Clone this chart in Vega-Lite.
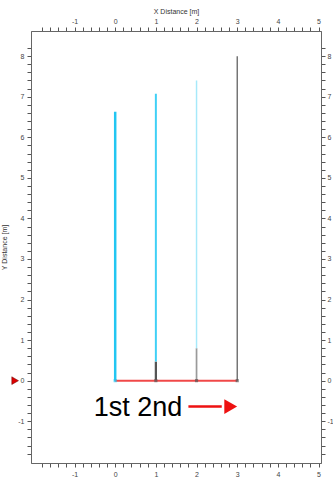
{
  "$schema": "https://vega.github.io/schema/vega-lite/v6.json",
  "width": 290,
  "height": 432,
  "autosize": "none",
  "padding": {"left": 31, "top": 31, "right": 12, "bottom": 17},
  "background": "white",
  "config": {
    "view": {"stroke": "#999", "strokeWidth": 1},
    "font": "Liberation Sans",
    "axis": {
      "grid": false,
      "domainColor": "#666",
      "tickColor": "#555",
      "tickSize": 4,
      "labelFontSize": 7,
      "labelColor": "#444",
      "labelFont": "Liberation Sans",
      "titleFont": "Liberation Sans",
      "titleFontSize": 7,
      "titleFontWeight": "normal",
      "titleColor": "#333",
      "labelOverlap": false,
      "labelBound": false,
      "labelFlush": false
    }
  },
  "datasets": {
    "segments": [
      {"x": 0, "y0": 0, "y1": 6.63, "part": "string 1"},
      {"x": 1, "y0": 0, "y1": 0.47, "part": "slack"},
      {"x": 1, "y0": 0.47, "y1": 7.07, "part": "string 2"},
      {"x": 2, "y0": 0, "y1": 0.8, "part": "slack light"},
      {"x": 2, "y0": 0.8, "y1": 7.4, "part": "string 3"},
      {"x": 3, "y0": 0, "y1": 8.0, "part": "post"}
    ],
    "base": [
      {"x": 0, "y": 0},
      {"x": 3, "y": 0}
    ],
    "nodes": [
      {"x": 0, "y": 0, "kind": "first"},
      {"x": 1, "y": 0, "kind": "node"},
      {"x": 2, "y": 0, "kind": "node"},
      {"x": 3, "y": 0, "kind": "node"}
    ],
    "label": [{"x": -0.53, "y": -0.87, "text": "1st 2nd"}],
    "arrow": [{"x": 1.8, "x2": 2.62, "y": -0.64}],
    "arrowhead": [{"x": 2.84, "y": -0.64}],
    "marker": [{"x": -2.46, "y": 0}]
  },
  "layer": [
    {
      "data": {"name": "segments"},
      "mark": {"type": "rule"},
      "encoding": {
        "x": {
          "field": "x", "type": "quantitative",
          "scale": {"domain": [-2.07, 5.06], "nice": false, "zero": false},
          "axis": {
            "orient": "bottom", "title": null,
            "values": [-1.8,-1.6,-1.4,-1.2,-1,-0.8,-0.6,-0.4,-0.2,0,0.2,0.4,0.6,0.8,1,1.2,1.4,1.6,1.8,2,2.2,2.4,2.6,2.8,3,3.2,3.4,3.6,3.8,4,4.2,4.4,4.6,4.8,5],
            "labelExpr": "abs(datum.value - round(datum.value)) < 0.001 ? '' + round(datum.value) : ''",
            "labelPadding": 3
          }
        },
        "y": {
          "field": "y0", "type": "quantitative",
          "scale": {"domain": [-2.03, 8.62], "nice": false, "zero": false},
          "axis": {
            "orient": "left", "title": "Y Distance [m]",
            "values": [-1.8,-1.6,-1.4,-1.2,-1,-0.8,-0.6,-0.4,-0.2,0,0.2,0.4,0.6,0.8,1,1.2,1.4,1.6,1.8,2,2.2,2.4,2.6,2.8,3,3.2,3.4,3.6,3.8,4,4.2,4.4,4.6,4.8,5,5.2,5.4,5.6,5.8,6,6.2,6.4,6.6,6.8,7,7.2,7.4,7.6,7.8,8,8.2],
            "labelExpr": "abs(datum.value - round(datum.value)) < 0.001 ? '' + round(datum.value) : ''",
            "labelPadding": 3,
            "titlePadding": 10
          }
        },
        "y2": {"field": "y1"},
        "color": {
          "field": "part", "type": "nominal", "legend": null,
          "scale": {
            "domain": ["string 1", "slack", "string 2", "slack light", "string 3", "post"],
            "range": ["#22c6f2", "#555555", "#3fd0f6", "#9a9a9a", "#a6e9fa", "#555555"]
          }
        },
        "strokeWidth": {
          "field": "part", "type": "nominal", "legend": null,
          "scale": {
            "domain": ["string 1", "slack", "string 2", "slack light", "string 3", "post"],
            "range": [2.5, 1.2, 1.2, 1.8, 1.8, 1]
          }
        }
      }
    },
    {
      "data": {"name": "base"},
      "mark": {"type": "line", "color": "#f04848", "strokeWidth": 2},
      "encoding": {
        "x": {"field": "x", "type": "quantitative", "axis": {"orient": "top", "title": "X Distance [m]",
            "values": [-1.8,-1.6,-1.4,-1.2,-1,-0.8,-0.6,-0.4,-0.2,0,0.2,0.4,0.6,0.8,1,1.2,1.4,1.6,1.8,2,2.2,2.4,2.6,2.8,3,3.2,3.4,3.6,3.8,4,4.2,4.4,4.6,4.8,5],
            "labelExpr": "abs(datum.value - round(datum.value)) < 0.001 ? '' + round(datum.value) : ''",
            "labelPadding": 3, "titlePadding": 3}},
        "y": {"field": "y", "type": "quantitative", "axis": {"orient": "right", "title": null,
            "values": [-1.8,-1.6,-1.4,-1.2,-1,-0.8,-0.6,-0.4,-0.2,0,0.2,0.4,0.6,0.8,1,1.2,1.4,1.6,1.8,2,2.2,2.4,2.6,2.8,3,3.2,3.4,3.6,3.8,4,4.2,4.4,4.6,4.8,5,5.2,5.4,5.6,5.8,6,6.2,6.4,6.6,6.8,7,7.2,7.4,7.6,7.8,8,8.2],
            "labelExpr": "abs(datum.value - round(datum.value)) < 0.001 ? '' + round(datum.value) : ''",
            "labelPadding": 2}}
      }
    },
    {
      "data": {"name": "nodes"},
      "mark": {"type": "point", "shape": "square", "filled": true, "size": 10},
      "encoding": {
        "x": {"field": "x", "type": "quantitative", "axis": null},
        "y": {"field": "y", "type": "quantitative", "axis": null},
        "color": {
          "field": "kind", "type": "nominal", "legend": null,
          "scale": {"domain": ["first", "node"], "range": ["#2a3f9a", "#444444"]}
        }
      }
    },
    {
      "data": {"name": "label"},
      "mark": {"type": "text", "align": "left", "baseline": "alphabetic", "fontSize": 27, "font": "Liberation Sans", "color": "black"},
      "encoding": {
        "x": {"field": "x", "type": "quantitative", "axis": null},
        "y": {"field": "y", "type": "quantitative", "axis": null},
        "text": {"field": "text"}
      }
    },
    {
      "data": {"name": "arrow"},
      "mark": {"type": "rule", "color": "#ee1111", "strokeWidth": 2.5},
      "encoding": {
        "x": {"field": "x", "type": "quantitative", "axis": null},
        "x2": {"field": "x2"},
        "y": {"field": "y", "type": "quantitative", "axis": null}
      }
    },
    {
      "data": {"name": "arrowhead"},
      "mark": {"type": "point", "shape": "triangle-right", "filled": true, "size": 220, "color": "#ee1111", "opacity": 1},
      "encoding": {
        "x": {"field": "x", "type": "quantitative", "axis": null},
        "y": {"field": "y", "type": "quantitative", "axis": null}
      }
    },
    {
      "data": {"name": "marker"},
      "mark": {"type": "point", "shape": "triangle-right", "filled": true, "size": 60, "color": "#dd0000", "stroke": "#660000", "strokeWidth": 0.5, "opacity": 1},
      "encoding": {
        "x": {"field": "x", "type": "quantitative", "axis": null},
        "y": {"field": "y", "type": "quantitative", "axis": null}
      }
    }
  ]
}
